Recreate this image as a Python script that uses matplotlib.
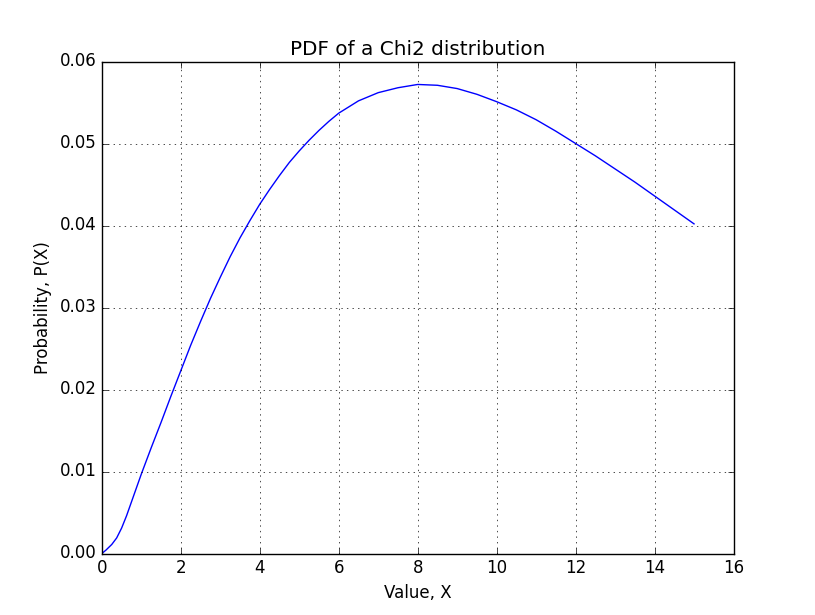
# PDF curve of a chi2-like distribution.
import matplotlib; matplotlib.use("Agg")
import matplotlib.pyplot as plt

x_vals = [0, 0.1, 0.25, 0.375, 0.5, 0.625, 0.75, 0.875, 1, 1.25, 1.5, 1.75, 2,
          2.25, 2.5, 2.75, 3, 3.25, 3.5, 3.75, 4, 4.25, 4.5, 4.75, 5, 5.25,
          5.5, 5.75, 6, 6.5, 7, 7.5, 8, 8.5, 9, 9.5, 10, 10.5, 11, 11.5, 12,
          12.5, 13, 13.5, 14, 14.5, 15]
pdf_vals = [0, 0.0004, 0.0011, 0.0019, 0.0031, 0.0046, 0.0063, 0.0080, 0.0097,
            0.0129, 0.0160, 0.0192, 0.0223, 0.0254, 0.0283, 0.0311, 0.0337,
            0.0362, 0.0385, 0.0406, 0.0426, 0.0444, 0.0461, 0.0477, 0.0491,
            0.0504, 0.0516, 0.0527, 0.0537, 0.0552, 0.0562, 0.0568, 0.0572,
            0.0571, 0.0567, 0.0560, 0.0551, 0.0541, 0.0529, 0.0515, 0.0500,
            0.0485, 0.0469, 0.0453, 0.0436, 0.0419, 0.0402]

plt.style.use("classic")
fig, ax = plt.subplots(figsize=(8.15, 6.15), dpi=100, facecolor="white")
ax.plot(x_vals, pdf_vals, "b-")
ax.set_xlim(0, 16)
ax.set_ylim(0, 0.06)
ax.set_title("PDF of a Chi2 distribution")
ax.set_xlabel("Value, X")
ax.set_ylabel("Probability, P(X)")
ax.grid(True)
fig.savefig("out.png", dpi=100, facecolor="white")
